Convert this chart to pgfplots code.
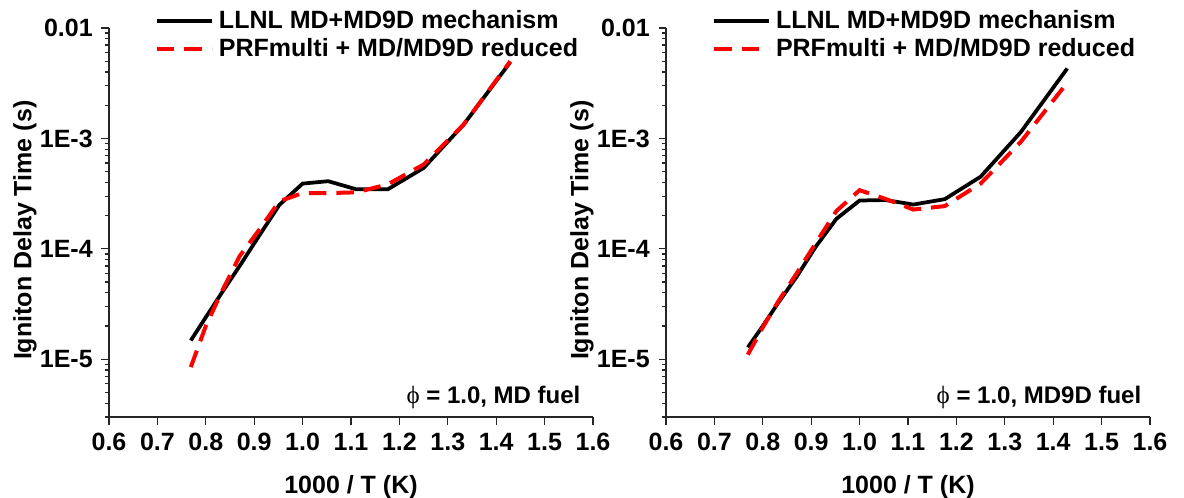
\documentclass[border=0pt]{standalone}
\usepackage{fontspec}
\setmainfont{Liberation Sans}
\newfontfamily\symfont{Liberation Serif}
\usepackage{pgfplots}
\pgfplotsset{compat=1.18}

\pgfplotstableread{
x y
0.769 1.48e-5
0.800 2.4e-5
0.833 4.0e-5
0.870 7.0e-5
0.909 1.29e-4
0.952 2.5e-4
1.000 3.9e-4
1.053 4.1e-4
1.111 3.46e-4
1.176 3.46e-4
1.250 5.4e-4
1.333 1.34e-3
1.429 4.9e-3
}\lblack
\pgfplotstableread{
x y
0.769 8.5e-6
0.800 2.0e-5
0.833 4.1e-5
0.870 8.6e-5
0.909 1.46e-4
0.952 2.7e-4
1.000 3.2e-4
1.053 3.2e-4
1.111 3.25e-4
1.176 3.84e-4
1.250 5.8e-4
1.333 1.34e-3
1.429 5.0e-3
}\lred
\pgfplotstableread{
x y
0.769 1.28e-5
0.800 2.0e-5
0.833 3.3e-5
0.870 5.6e-5
0.909 1.04e-4
0.952 1.87e-4
1.000 2.74e-4
1.053 2.77e-4
1.111 2.52e-4
1.176 2.82e-4
1.250 4.5e-4
1.333 1.14e-3
1.429 4.3e-3
}\rblack
\pgfplotstableread{
x y
0.769 1.1e-5
0.800 1.95e-5
0.833 3.4e-5
0.870 6.0e-5
0.909 1.12e-4
0.952 2.2e-4
1.000 3.4e-4
1.053 2.84e-4
1.111 2.27e-4
1.176 2.44e-4
1.250 3.9e-4
1.333 9.3e-4
1.429 3.2e-3
}\rred

\tikzset{
  blk/.style={black, line width=1.5pt},
  rdd/.style={red, line width=1.6pt, dash pattern=on 7pt off 4pt},
}
\newcommand\bff{\fontsize{10}{12}\selectfont\bfseries}
\newcommand\annf{\fontsize{9.6}{12}\selectfont\bfseries}
\newcommand\phisym{{\symfont\mdseries\fontsize{10}{12}\selectfont ϕ}}

\begin{document}
\begin{tikzpicture}
\useasboundingbox (-43.6pt,-32pt) rectangle (430pt,166.8pt);
\begin{axis}[at={(0pt,0pt)},
    scale only axis, width=193.6pt, height=155.6pt,
    axis lines=left, axis line style={-, black!85, line width=0.6pt},
    ymode=log, xmin=0.6, xmax=1.6, ymin=3e-6, ymax=0.01,
    xtick={0.6,0.7,0.8,0.9,1.0,1.1,1.2,1.3,1.4,1.5,1.6},
    xticklabels={0.6,0.7,0.8,0.9,1.0,1.1,1.2,1.3,1.4,1.5,1.6},
    ytick={1e-5,1e-4,1e-3,1e-2},
    yticklabels={1E-5,1E-4,1E-3,0.01},
    minor ytick={3e-6,4e-6,5e-6,6e-6,7e-6,8e-6,9e-6,2e-5,3e-5,4e-5,5e-5,6e-5,7e-5,8e-5,9e-5,2e-4,3e-4,4e-4,5e-4,6e-4,7e-4,8e-4,9e-4,2e-3,3e-3,4e-3,5e-3,6e-3,7e-3,8e-3,9e-3},
    tick align=outside, major tick length=3pt, minor tick length=1.6pt,
    tick style={black!85, line width=0.5pt},
    ticklabel style={font=\bff},
    xlabel={1000 / T (K)},
    ylabel={Igniton Delay Time (s)},
    xlabel style={font=\bff, at={(axis description cs:0.5,0)}, anchor=center, yshift=-28pt},
    ylabel style={font=\bff, at={(axis description cs:-0.1736,0.48)}, anchor=center},
    legend style={at={(axis description cs:0.094,1.06)}, anchor=north west, draw=none, fill=none,
      font=\bff, inner sep=0pt, row sep=-1.4pt},
    legend cell align=left,
    legend image code/.code={\draw[#1] (0pt,0pt) -- (22pt,0pt);},
    clip=false]
\addplot[blk] table[x=x,y=y] {\lblack};
\addlegendentry{LLNL MD+MD9D mechanism}
\addplot[rdd] table[x=x,y=y] {\lred};
\addlegendentry{PRFmulti + MD/MD9D reduced}
\node[anchor=base east, inner sep=0pt, font=\annf] at (rel axis cs:0.975,0.036) {\phisym\ = 1.0, MD fuel};
\end{axis}
\begin{axis}[at={(222.8pt,0pt)},
    scale only axis, width=193.6pt, height=155.6pt,
    axis lines=left, axis line style={-, black!85, line width=0.6pt},
    ymode=log, xmin=0.6, xmax=1.6, ymin=3e-6, ymax=0.01,
    xtick={0.6,0.7,0.8,0.9,1.0,1.1,1.2,1.3,1.4,1.5,1.6},
    xticklabels={0.6,0.7,0.8,0.9,1.0,1.1,1.2,1.3,1.4,1.5,1.6},
    ytick={1e-5,1e-4,1e-3,1e-2},
    yticklabels={1E-5,1E-4,1E-3,0.01},
    minor ytick={3e-6,4e-6,5e-6,6e-6,7e-6,8e-6,9e-6,2e-5,3e-5,4e-5,5e-5,6e-5,7e-5,8e-5,9e-5,2e-4,3e-4,4e-4,5e-4,6e-4,7e-4,8e-4,9e-4,2e-3,3e-3,4e-3,5e-3,6e-3,7e-3,8e-3,9e-3},
    tick align=outside, major tick length=3pt, minor tick length=1.6pt,
    tick style={black!85, line width=0.5pt},
    ticklabel style={font=\bff},
    xlabel={1000 / T (K)},
    ylabel={Igniton Delay Time (s)},
    xlabel style={font=\bff, at={(axis description cs:0.5,0)}, anchor=center, yshift=-28pt},
    ylabel style={font=\bff, at={(axis description cs:-0.1736,0.48)}, anchor=center},
    legend style={at={(axis description cs:0.094,1.06)}, anchor=north west, draw=none, fill=none,
      font=\bff, inner sep=0pt, row sep=-1.4pt},
    legend cell align=left,
    legend image code/.code={\draw[#1] (0pt,0pt) -- (22pt,0pt);},
    clip=false]
\addplot[blk] table[x=x,y=y] {\rblack};
\addlegendentry{LLNL MD+MD9D mechanism}
\addplot[rdd] table[x=x,y=y] {\rred};
\addlegendentry{PRFmulti + MD/MD9D reduced}
\node[anchor=base east, inner sep=0pt, font=\annf] at (rel axis cs:0.983,0.036) {\phisym\ = 1.0, MD9D fuel};
\end{axis}
\end{tikzpicture}
\end{document}
